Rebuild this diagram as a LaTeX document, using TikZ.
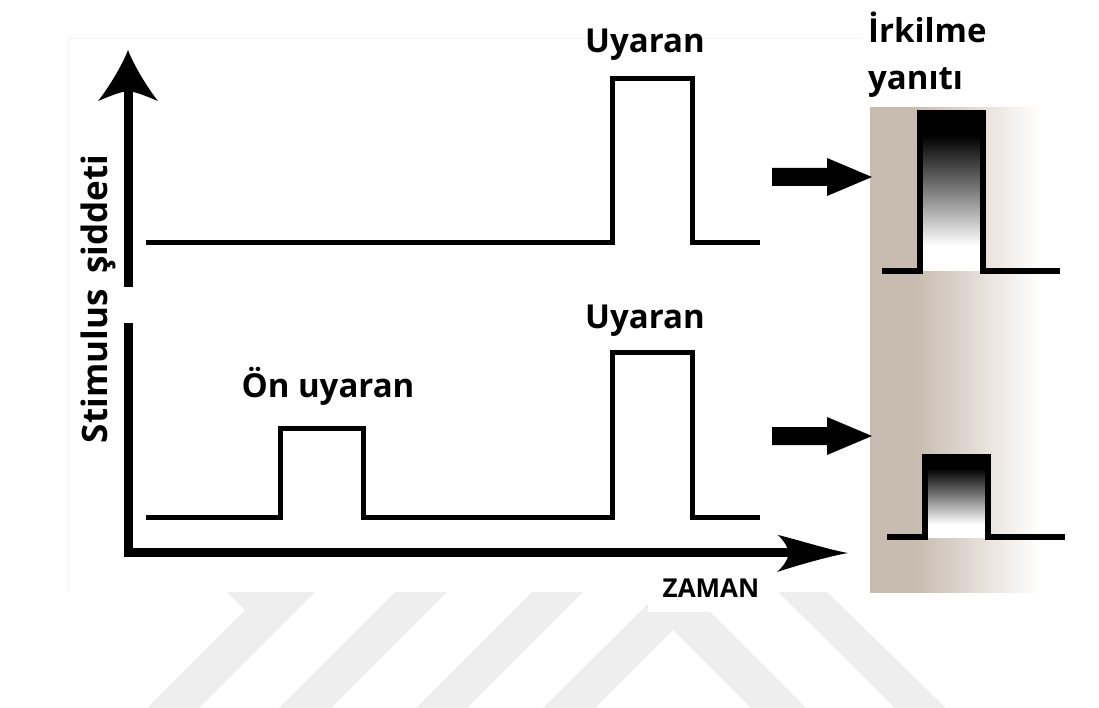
\documentclass[tikz,border=0pt]{standalone}
\usepackage{fontspec}
\setmainfont{Open Sans}
\definecolor{beige}{RGB}{200,188,176}
\definecolor{wm}{RGB}{238,238,238}
\definecolor{frameline}{RGB}{244,244,244}
\pgfdeclareverticalshading{respshade}{100bp}{color(0bp)=(white); color(33bp)=(white); color(50bp)=(gray); color(68bp)=(black); color(100bp)=(black)}
\pgfdeclarehorizontalshading{panelshade}{100bp}{color(0bp)=(beige); color(35bp)=(beige); color(62bp)=(white); color(100bp)=(white)}
\begin{document}
\begin{tikzpicture}[x=1pt,y=-1pt,
  sig/.style={line width=5pt, line join=miter, black},
  resp/.style={line width=6pt, line join=miter, black},
  axisline/.style={line width=9pt, line join=miter, black},
  lbl/.style={font=\fontsize{33}{40}\selectfont\bfseries, inner sep=0pt, anchor=base},
  fatarrow/.style={fill=black},
  wmark/.style={fill=wm}]
\useasboundingbox (0,0) rectangle (1099,708);
% watermark
\begin{scope}
\clip (0,592) rectangle (1099,708);
\fill[wmark] (227,592) -- (315,592) -- (199,708) -- (147,708) -- (245,610) -- cycle;
\fill[wmark] (395,592) -- (447,592) -- (331,708) -- (279,708) -- cycle;
\fill[wmark] (532,592) -- (583,592) -- (467,708) -- (416,708) -- cycle;
\fill[wmark] (543,708) -- (675,577) -- (806,708) -- (751,708) -- (673,630) -- (595,708) -- cycle;
\fill[wmark] (778,592) -- (827,592) -- (946,708) -- (895,708) -- cycle;
\end{scope}
\draw[frameline] (68,592) -- (68,38) -- (862,38);
\fill[white] (648,592) rectangle (773,612);
% response panel
\shade[shading=panelshade] (870,108) rectangle (1099,592);
% axes
\coordinate (origin) at (128,552);
\coordinate (ytop) at (128,90);
\coordinate (xend) at (795,552);
\draw[axisline] (128,323) -- (origin) -- (xend);
\draw[axisline] (128,287) -- (ytop);
\fill (128,50) .. controls (122,66) and (107,90) .. (98,101)
  .. controls (110,96) and (120,92) .. (128,91)
  .. controls (136,92) and (146,96) .. (158,101)
  .. controls (149,90) and (134,66) .. (128,50) -- cycle;
\fill (848,553) .. controls (830,550) and (795,539) .. (778,535)
  .. controls (785,542) and (788,548) .. (789,553)
  .. controls (788,558) and (785,565) .. (777,572)
  .. controls (795,566) and (830,556) .. (848,553) -- cycle;
% stimulus traces
\draw[sig] (146,243) -- (612,243) -- (612,79) -- (692,79) -- (692,243) -- (760,243);
\draw[sig] (146,517) -- (280,517) -- (280,428) -- (363,428) -- (363,517) -- (612,517) -- (612,352) -- (692,352) -- (692,517) -- (760,517);
% fat arrows
\fill[fatarrow] (772,168) -- (827,168) -- (827,158) -- (872,177) -- (827,196) -- (827,186) -- (772,186) -- cycle;
\fill[fatarrow] (772,427) -- (827,427) -- (827,417) -- (872,436) -- (827,455) -- (827,445) -- (772,445) -- cycle;
% responses
\shade[shading=respshade] (922,113) rectangle (981,271);
\draw[resp] (882,271) -- (920,271) -- (920,113) -- (983,113) -- (983,271) -- (1060,271);
\shade[shading=respshade] (927,457) rectangle (986,537);
\draw[resp] (887,537) -- (925,537) -- (925,457) -- (988,457) -- (988,537) -- (1065,537);
% labels
\node[lbl] (uy1) at (645,53) {Uyaran};
\node[lbl] (uy2) at (645,328) {Uyaran};
\node[lbl] (on) at (328,397) {Ön uyaran};
\node[lbl, anchor=base west] (irk) at (868,43) {İrkilme};
\node[lbl, anchor=base west] (yan) at (868,90) {yanıtı};
\node[lbl, font=\fontsize{35}{42}\selectfont\bfseries, rotate=90] (stim) at (107,299) {Stimulus\hspace{0.45em}şiddeti};
\node[lbl, font=\fontsize{26}{30}\selectfont\bfseries] (zaman) at (711,597) {ZAMAN};
\end{tikzpicture}
\end{document}
